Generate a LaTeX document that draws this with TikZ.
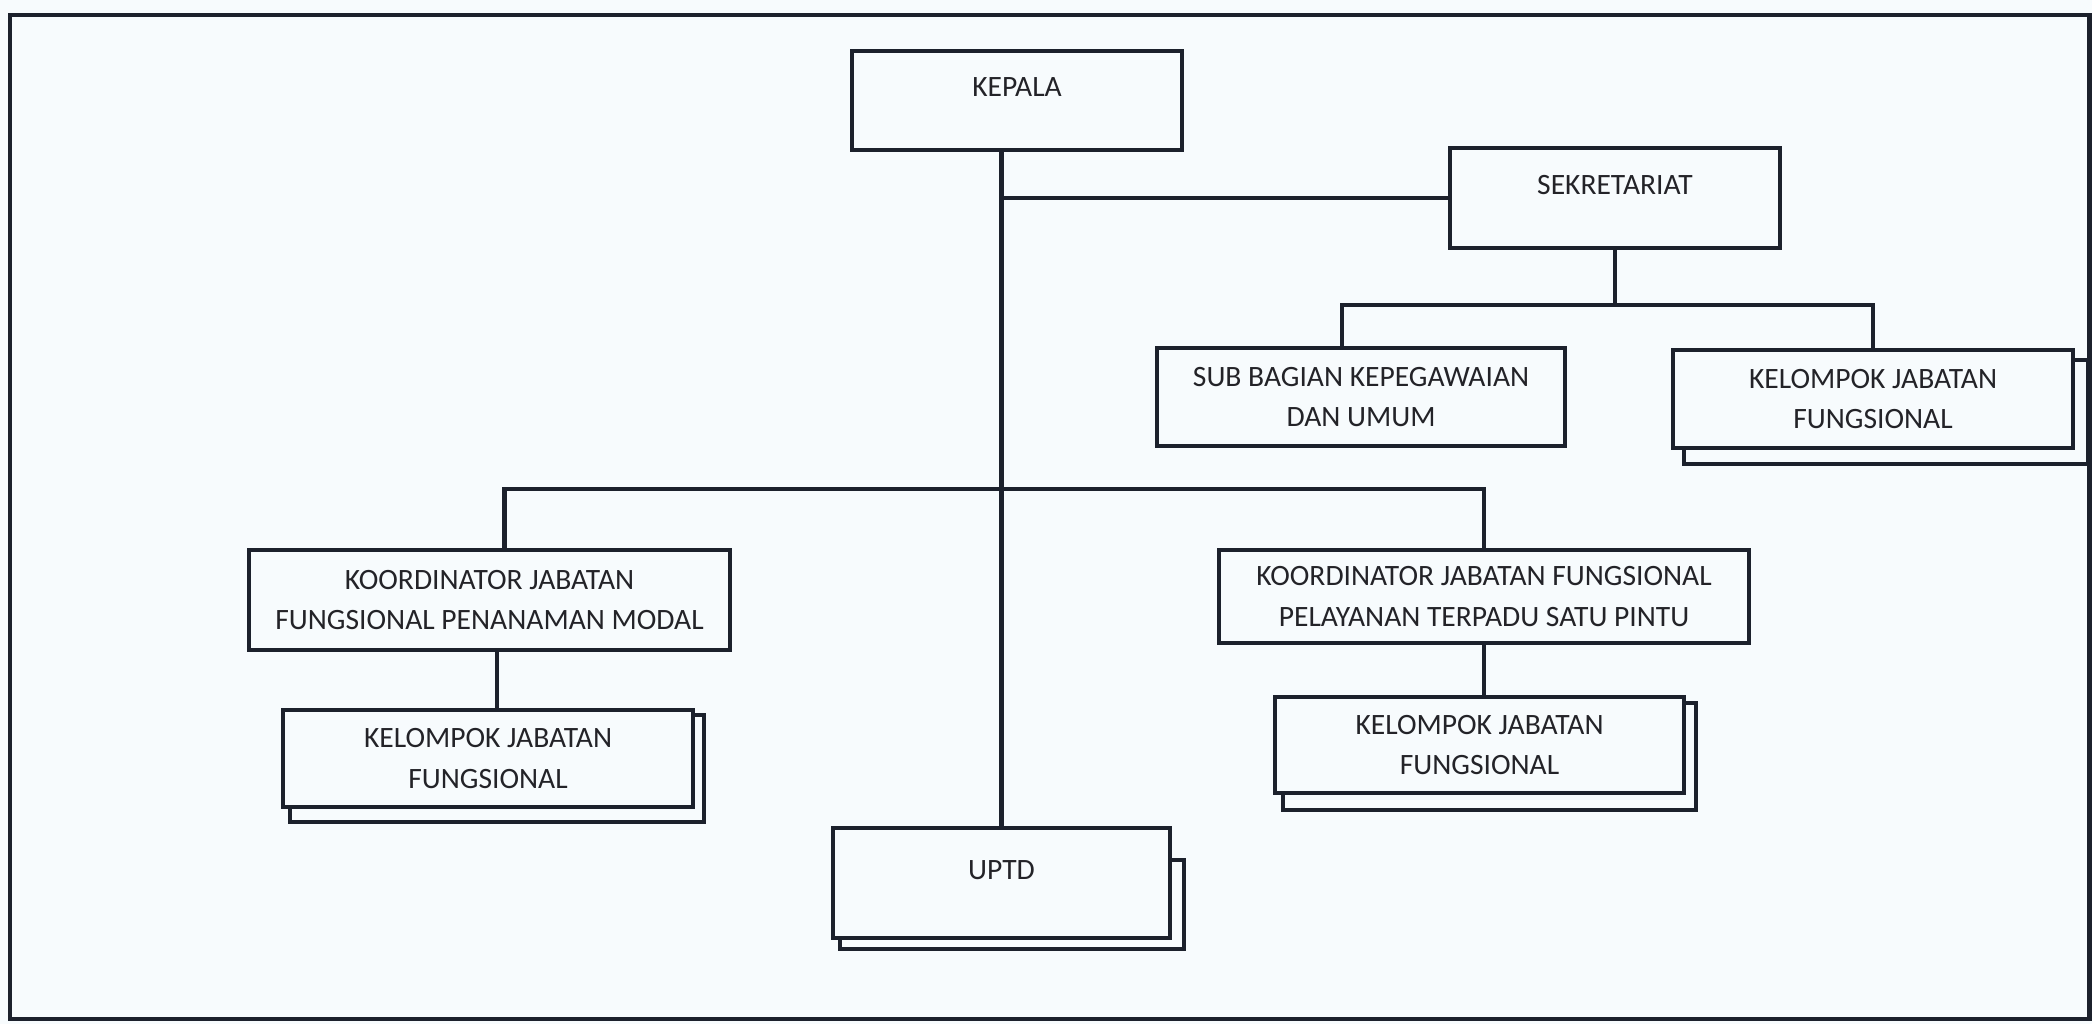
\documentclass[tikz,border=0pt]{standalone}
\usepackage{fontspec}
\setmainfont{Carlito}
\usetikzlibrary{backgrounds}
\definecolor{ink}{RGB}{28,33,44}
\definecolor{txt}{RGB}{35,35,40}
\definecolor{paper}{RGB}{247,251,253}

\begin{document}
\begin{tikzpicture}[x=0.01cm,y=-0.01cm,
  box/.style={draw=ink,fill=paper,line width=1.2pt,align=center,text=txt,
    font=\fontsize{8.4pt}{11.4pt}\selectfont,inner sep=0pt},
  single/.style={text height=0.2cm,text depth=0.28cm},
  conn/.style={draw=ink,line width=1.2pt},
  backbox/.style={draw=ink,fill=paper,line width=1.2pt}]
\useasboundingbox (0,0) rectangle (2092,1024);
\draw[ink,line width=1.4pt] (10,15) rectangle (2089,1019);

% top
\node[box,single,minimum width=3.3cm,minimum height=0.99cm] (kepala) at (1017,100.5) {KEPALA};
\node[box,single,minimum width=3.3cm,minimum height=1cm] (sekre) at (1615,198) {SEKRETARIAT};
\node[box,minimum width=4.08cm,minimum height=0.98cm] (subbag) at (1361,397) {SUB BAGIAN KEPEGAWAIAN\\DAN UMUM};
\node[box,minimum width=4cm,minimum height=0.98cm] (kjfsek) at (1873,399) {KELOMPOK JABATAN\\FUNGSIONAL};
% koordinator
\node[box,minimum width=4.81cm,minimum height=1cm] (koordpm) at (489.5,600) {KOORDINATOR JABATAN\\FUNGSIONAL PENANAMAN MODAL};
\node[box,minimum width=5.3cm,minimum height=0.93cm] (koordptsp) at (1484,596.5) {KOORDINATOR JABATAN FUNGSIONAL\\PELAYANAN TERPADU SATU PINTU};
\node[box,minimum width=4.1cm,minimum height=0.97cm] (kjfpm) at (488,758.5) {KELOMPOK JABATAN\\FUNGSIONAL};
\node[box,minimum width=4.09cm,minimum height=0.96cm] (kjfptsp) at (1479.5,745) {KELOMPOK JABATAN\\FUNGSIONAL};
\node[box,single,minimum width=3.37cm,minimum height=1.1cm] (uptd) at (1001.5,883) {UPTD};

\coordinate (sekbus) at ([yshift=-0.55cm]sekre.south);
\coordinate (bus) at (1001,489);

\draw[conn] (uptd.north) -- (uptd.north |- kepala.south);
\draw[conn] (sekre.west) -- (sekre.west -| uptd.north);
\draw[conn] (sekre.south) -- (sekbus);
\draw[conn] ([xshift=-0.19cm]subbag.north) |- (sekbus) -| (kjfsek.north);
\draw[conn] ([xshift=0.15cm]koordpm.north) |- (bus) -| (koordptsp.north);
\draw[conn] ([xshift=0.09cm]kjfpm.north) -- ([xshift=0.09cm]kjfpm.north |- koordpm.south);
\draw[conn] (koordptsp.south) -- (koordptsp.south |- kjfptsp.north);

% stacked copies
\begin{scope}[on background layer]
\fill[paper] (0,0) rectangle (2092,1024);
\draw[backbox] ([shift={(13,12)}]kjfsek.north west) rectangle ([shift={(13,14)}]kjfsek.south east);
\draw[backbox] ([shift={(10,8)}]kjfptsp.north west) rectangle ([shift={(10,15)}]kjfptsp.south east);
\draw[backbox] ([shift={(9,7)}]kjfpm.north west) rectangle ([shift={(9,13)}]kjfpm.south east);
\draw[backbox] ([shift={(9,34)}]uptd.north west) rectangle ([shift={(12,9)}]uptd.south east);
\end{scope}
\end{tikzpicture}
\end{document}
